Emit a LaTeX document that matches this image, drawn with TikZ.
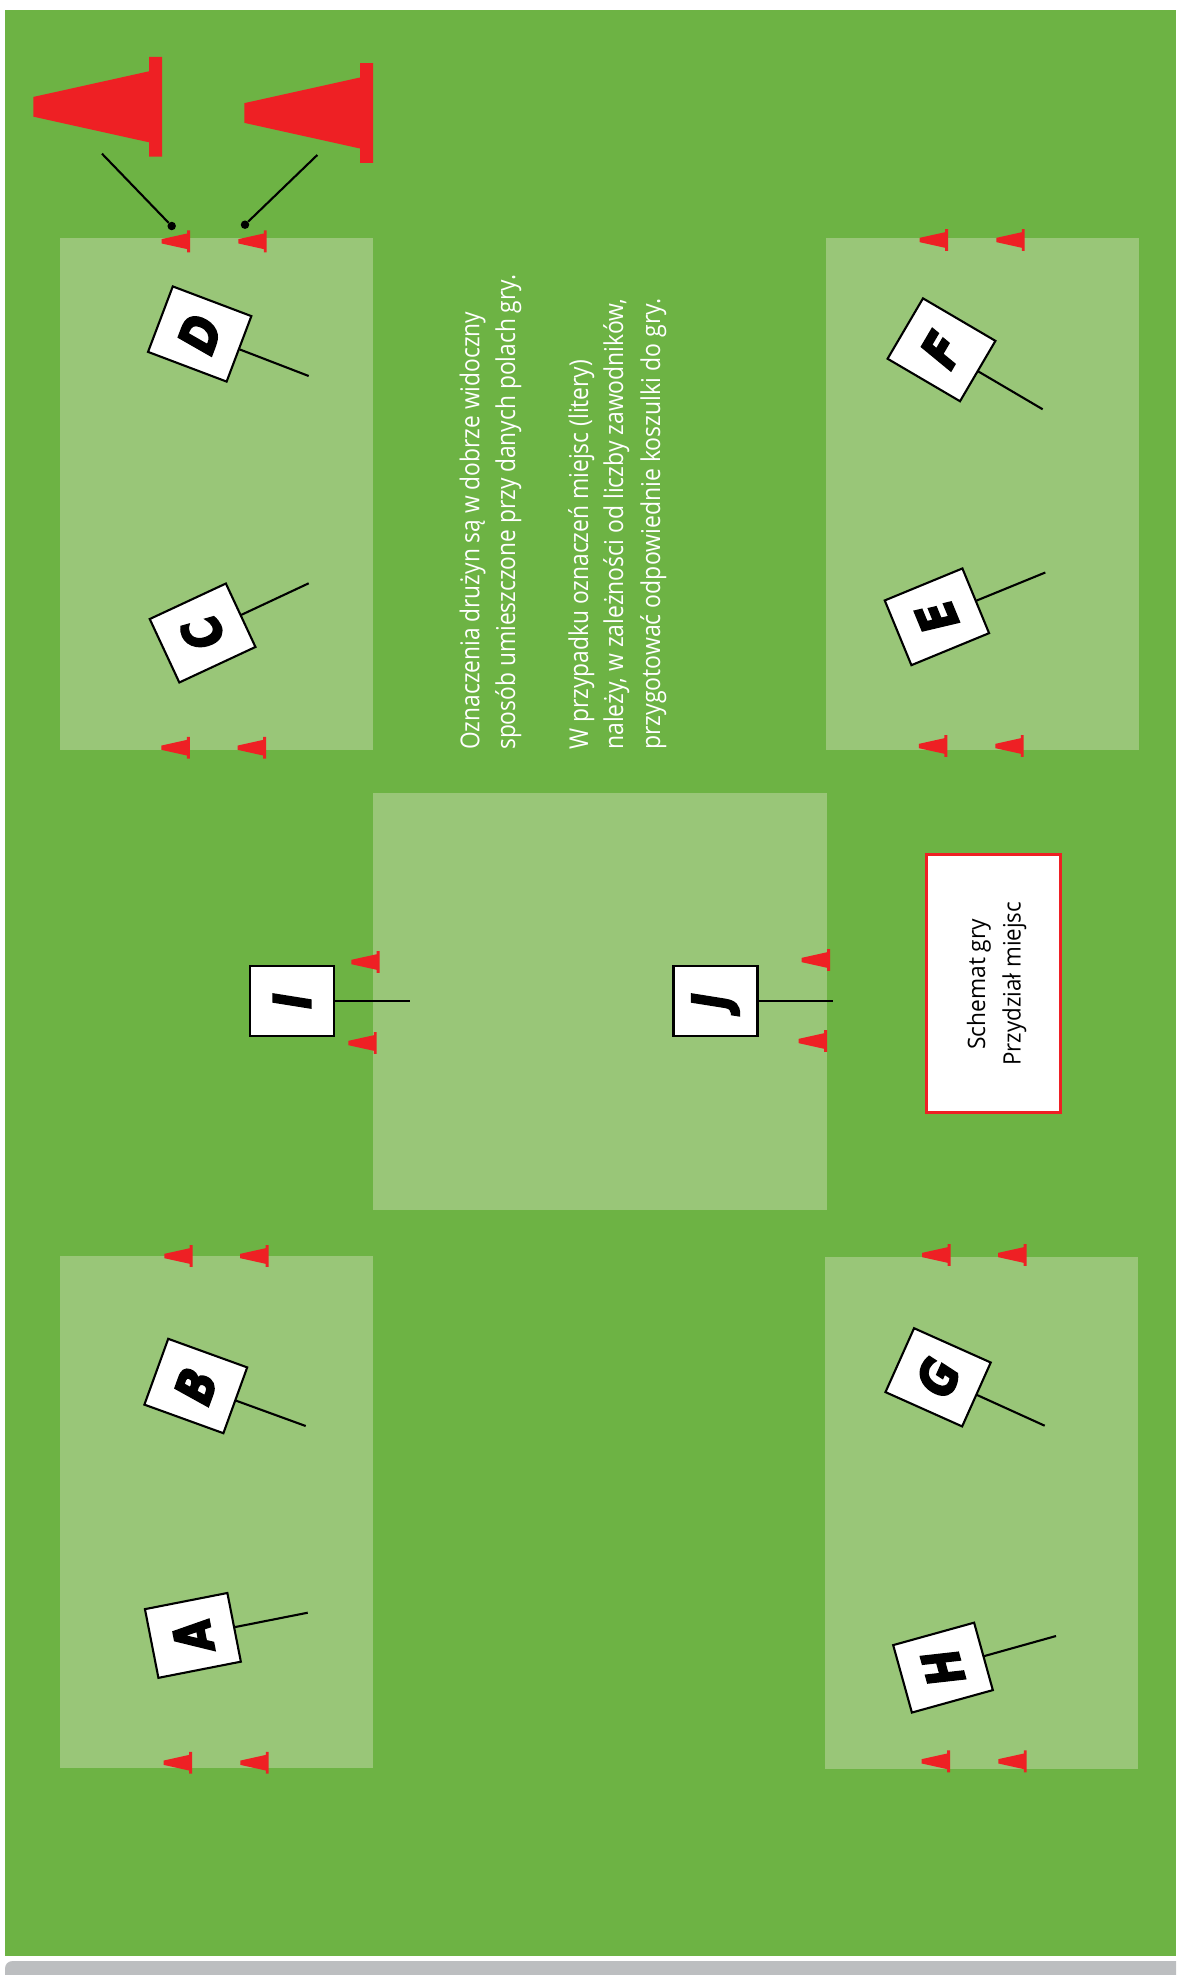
\documentclass[tikz,border=0pt]{standalone}
\usepackage{fontspec}
\usepackage{graphicx}
\setmainfont{Open Sans}
\newfontfamily\signfont{DejaVu Sans}[BoldItalicFeatures={FakeBold=4}]
\definecolor{fieldgreen}{HTML}{6DB344}
\definecolor{lightgreen}{HTML}{99C678}
\definecolor{conered}{HTML}{EE2024}
\definecolor{bargray}{HTML}{BCBEC0}
\tikzset{
  zone/.style={fill=lightgreen,draw=none},
  placard/.style={draw=black,fill=white,line width=2.1pt,inner sep=0pt,outer sep=0pt,minimum width=70pt,minimum height=84pt,font=\fontsize{51}{51}\signfont\bfseries\itshape},
  stick/.style={draw=black,line width=2.1pt},
  leader/.style={draw=black,line width=2.1pt},
  leaderdot/.style={circle,fill=black,inner sep=0pt,minimum size=8.5pt},
  whiteline/.style={text=white,rotate=90,anchor=base west,inner sep=0pt,font=\fontsize{26}{26}\selectfont},
  blackline/.style={text=black,rotate=90,anchor=base west,inner sep=0pt,font=\fontsize{24}{24}\selectfont}
}
\newcommand{\conemark}[3]{\fill[conered,shift={(#1,#2)},scale=#3] (0,-49.8) -- (0,49.8) -- (-13,49.8) -- (-13,35.5) -- (-128.7,9.85) -- (-128.7,-9.85) -- (-13,-35.5) -- (-13,-49.8) -- cycle;}
\newcommand{\signpost}[7]{% name, letter, cx, cy, angle, end x, end y
  \node[placard,rotate=#5] (#1) at (#3,#4) {\scalebox{0.82}[1]{#2}};
  \coordinate (#1end) at (#6,#7);
  \draw[stick] (#1) -- (#1end);}
\begin{document}
\begin{tikzpicture}[x=1pt,y=-1pt]
\useasboundingbox (0,0) rectangle (1176,1975);
\fill[white] (0,0) rectangle (1176,1975);
\fill[fieldgreen] (5,10) rectangle (1176,1956);
\fill[bargray] (5,1975) -- (5,1969) .. controls (5,1964) and (8,1961) .. (13,1961) -- (1176,1961) -- (1176,1975) -- cycle;
% zones
\fill[zone] (60,238) rectangle (373,750);
\fill[zone] (826,238) rectangle (1139,750);
\fill[zone] (60,1256) rectangle (373,1768);
\fill[zone] (825,1257) rectangle (1138,1769);
\fill[zone] (373,793) rectangle (827,1210);
% large cones
\conemark{162}{106.8}{1}
\conemark{373}{113}{1}
% small cones
\conemark{190}{241.3}{0.22}
\conemark{266.7}{241.3}{0.22}
\conemark{189.8}{747.7}{0.22}
\conemark{266}{747.7}{0.22}
\conemark{948}{240}{0.22}
\conemark{1024.7}{240}{0.22}
\conemark{947.3}{746}{0.22}
\conemark{1023.7}{746}{0.22}
\conemark{192}{1762.7}{0.22}
\conemark{268.7}{1762.7}{0.22}
\conemark{950}{1761.3}{0.22}
\conemark{1026.7}{1761.3}{0.22}
\conemark{192.6}{1256}{0.22}
\conemark{268.5}{1256}{0.22}
\conemark{950.5}{1255}{0.22}
\conemark{1026.5}{1255}{0.22}
\conemark{379.6}{962}{0.22}
\conemark{376.7}{1043}{0.22}
\conemark{830}{960}{0.22}
\conemark{827}{1041}{0.22}
% leaders
\node[leaderdot] (dotA) at (171.7,226) {};
\node[leaderdot] (dotB) at (245,224.7) {};
\coordinate (leadA) at (102,153.7);
\coordinate (leadB) at (317.3,155);
\draw[leader] (leadA) -- (dotA);
\draw[leader] (leadB) -- (dotB);
% signs
\signpost{signA}{A}{192.9}{1635.4}{101.1}{307.7}{1612.7}
\signpost{signB}{B}{195.8}{1386}{70.1}{305.7}{1426}
\signpost{signC}{C}{202.6}{633}{115}{308.7}{583.3}
\signpost{signD}{D}{199.7}{334}{69.3}{308.7}{376}
\signpost{signE}{E}{936.9}{616.8}{112.4}{1045.3}{572.5}
\signpost{signF}{F}{941.5}{349.8}{59.6}{1042.7}{409.3}
\signpost{signG}{G}{938.1}{1377.3}{65.9}{1044.7}{1425.7}
\signpost{signH}{H}{943}{1667.6}{105.5}{1056}{1636}
\signpost{signI}{I}{292}{1001}{90}{410}{1001}
\signpost{signJ}{J}{715.5}{1001}{90}{833}{1001}
% white text
\node[whiteline] (t1) at (479.3,750) {\resizebox{438pt}{\height}{Oznaczenia drużyn są w dobrze widoczny}};
\node[whiteline] (t2) at (515,750) {\resizebox{475pt}{\height}{sposób umieszczone przy danych polach gry.}};
\node[whiteline] (t3) at (588,750) {\resizebox{390pt}{\height}{W przypadku oznaczeń miejsc (litery)}};
\node[whiteline] (t4) at (623,750) {\resizebox{451pt}{\height}{należy, w zależności od liczby zawodników,}};
\node[whiteline] (t5) at (660,750) {\resizebox{451pt}{\height}{przygotować odpowiednie koszulki do gry.}};
% title box
\node[draw=conered,fill=white,line width=3pt,inner sep=0pt,minimum width=133.5pt,minimum height=258pt] (titlebox) at (993.3,983) {};
\node[blackline] (t6) at (985,1050) {\resizebox{131pt}{\height}{Schemat gry}};
\node[blackline] (t7) at (1020.7,1066) {\resizebox{164pt}{\height}{Przydział miejsc}};
\end{tikzpicture}
\end{document}
